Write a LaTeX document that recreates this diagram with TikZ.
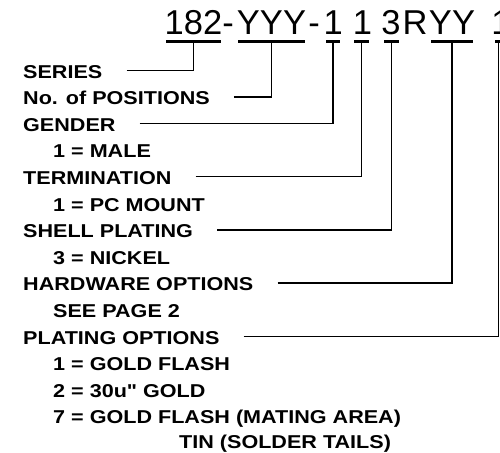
\documentclass[tikz,border=0pt]{standalone}
\usepackage{fontspec}
\setmainfont{Liberation Sans}
\newfontfamily\lblfont{Liberation Sans}[FakeStretch=1.16]
\usepackage{tikz}

\tikzset{
  pn/.style={anchor=base, inner sep=0pt, font=\fontsize{34.5}{36}\selectfont},
  ubar/.style={fill=black, inner sep=0pt, outer sep=0pt, minimum height=3pt},
  lbl/.style={anchor=base west, inner sep=0pt, text height=15.4pt, text depth=0pt,
    font=\lblfont\bfseries\fontsize{18.6}{20}\selectfont},
  lead/.style={line width=1.5pt}
}

\begin{document}
\begin{tikzpicture}[x=1pt, y=-1pt]
    \fill[white] (0,0) rectangle (500,452);
    \useasboundingbox (0,0) rectangle (500,452);

    % part number
    \node[pn] (t182) at (193.5,35) {182};
    \node[pn] (tdash1) at (228,35) {-};
    \node[pn] (tyyy) at (271.5,35) {YYY};
    \node[pn] (tdash2) at (314,35) {-};
    \node[pn] (tgen) at (333.3,35) {1};
    \node[pn] (tterm) at (362.5,35) {1};
    \node[pn] (tshell) at (391,35) {3};
    \node[pn] (tr) at (415,35) {R};
    \node[pn] (thw) at (452,35) {YY};
    \node[pn] (tplat) at (501,35) {1};

    % underline bars
    \node[ubar, minimum width=55pt] (b182) at (193.5,41.5) {};
    \node[ubar, minimum width=67pt] (byyy) at (271.5,41.5) {};
    \node[ubar, minimum width=14pt] (bgen) at (333,41.5) {};
    \node[ubar, minimum width=15pt] (bterm) at (361.5,41.5) {};
    \node[ubar, minimum width=15pt] (bshell) at (391.5,41.5) {};
    \node[ubar, minimum width=42pt] (bhw) at (452,41.5) {};
    \node[ubar, minimum width=7pt] (bplat) at (498.5,41.5) {};

    % labels
    \node[lbl] (ser) at (23,78) {SERIES};
    \node[lbl] (pos) at (23,104.6) {No. of POSITIONS};
    \node[lbl] (gen) at (23,131.2) {GENDER};
    \node[lbl] (male) at (53,157.8) {1 = MALE};
    \node[lbl] (term) at (23,184.4) {TERMINATION};
    \node[lbl] (pcm) at (53,211) {1 = PC MOUNT};
    \node[lbl] (shell) at (23,237.6) {SHELL PLATING};
    \node[lbl] (nickel) at (53,264.2) {3 = NICKEL};
    \node[lbl] (hw) at (23,290.8) {HARDWARE OPTIONS};
    \node[lbl] (page) at (53,317.4) {SEE PAGE 2};
    \node[lbl] (plat) at (23,344) {PLATING OPTIONS};
    \node[lbl] (gflash) at (53,370.6) {1 = GOLD FLASH};
    \node[lbl] (gold30) at (53,397.2) {2 = 30u" GOLD};
    \node[lbl] (gmate) at (53,423.8) {7 = GOLD FLASH (MATING AREA)};
    \node[lbl] (tin) at (179,448) {TIN (SOLDER TAILS)};

    % leaders
    \draw[lead] (ser.east) ++(24,0) -| (b182.south);
    \draw[lead] (pos.east) ++(24,0) -| (byyy.south);
    \draw[lead] (gen.east) ++(24,0) -| (bgen.south);
    \draw[lead] (term.east) ++(24,0) -| (bterm.south);
    \draw[lead] (shell.east) ++(24,0) -| (bshell.south);
    \draw[lead] (hw.east) ++(24,0) -| (bhw.south);
    \draw[lead] (plat.east) ++(24,0) -| (bplat.south);
\end{tikzpicture}
\end{document}
